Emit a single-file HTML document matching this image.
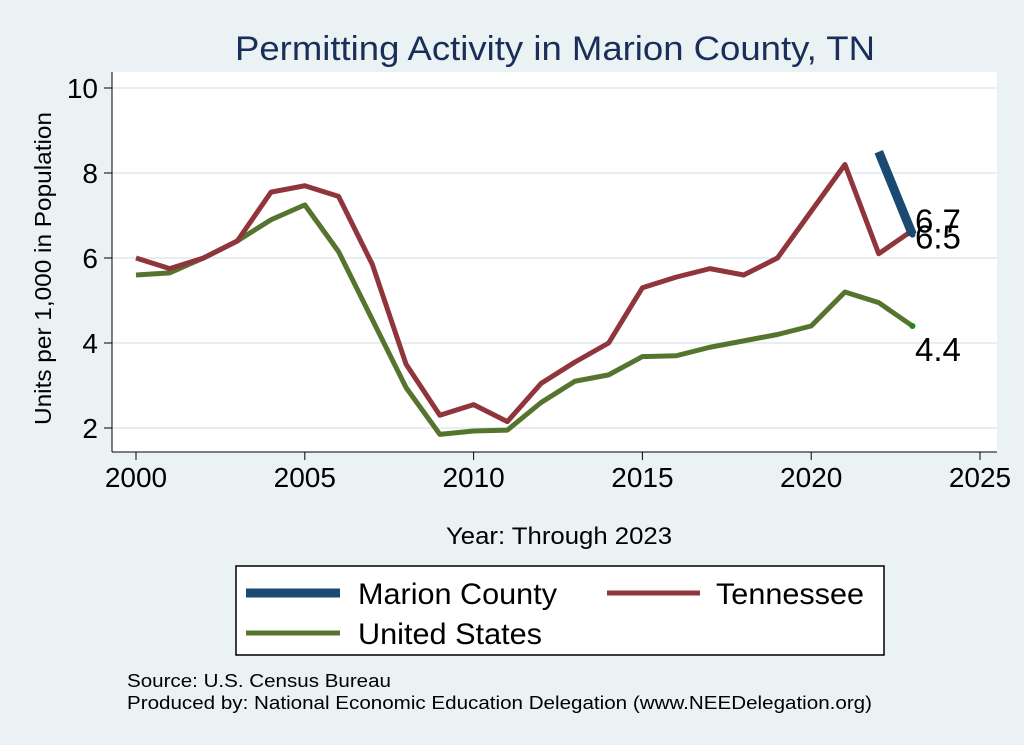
<!DOCTYPE html>
<html><head><meta charset="utf-8"><style>
body{margin:0;background:#eaf2f3;}
svg{display:block;font-family:"Liberation Sans",Arial,sans-serif;}
</style></head><body>
<svg id="chart" width="1024" height="745">
<rect x="0" y="0" width="1024" height="745" fill="#eaf2f3"/>
<rect x="112" y="72" width="885" height="380" fill="#ffffff"/>
<text x="235" y="60" font-size="34" fill="#1a2e5a" textLength="640" lengthAdjust="spacingAndGlyphs">Permitting Activity in Marion County, TN</text>
<g id="grid"></g><g id="axes"></g><g id="series"></g>
<text x="51" y="425" font-size="23" textLength="313" lengthAdjust="spacingAndGlyphs" transform="rotate(-90 51 425)">Units per 1,000 in Population</text>
<text x="446" y="544" font-size="24" textLength="226" lengthAdjust="spacingAndGlyphs">Year: Through 2023</text>
<g>
<rect x="236" y="566" width="648" height="89" fill="#fff" stroke="#000" stroke-width="1.5"/>
<line x1="246" y1="593" x2="340" y2="593" stroke="#1a4a72" stroke-width="9"/>
<text x="358" y="604" font-size="30" textLength="199" lengthAdjust="spacingAndGlyphs">Marion County</text>
<line x1="607" y1="593" x2="700" y2="593" stroke="#90353b" stroke-width="5"/>
<text x="716" y="604" font-size="30" textLength="148" lengthAdjust="spacingAndGlyphs">Tennessee</text>
<line x1="246" y1="633" x2="340" y2="633" stroke="#55752f" stroke-width="5"/>
<text x="358" y="644" font-size="30" textLength="184" lengthAdjust="spacingAndGlyphs">United States</text>
</g>
<text x="127" y="687" font-size="18" textLength="264" lengthAdjust="spacingAndGlyphs">Source: U.S. Census Bureau</text>
<text x="127" y="709" font-size="18" textLength="745" lengthAdjust="spacingAndGlyphs">Produced by: National Economic Education Delegation (www.NEEDelegation.org)</text>
</svg>
<script>
const years=[2000,2001,2002,2003,2004,2005,2006,2007,2008,2009,2010,2011,2012,2013,2014,2015,2016,2017,2018,2019,2020,2021,2022,2023];
const tennessee=[6.0,5.75,6.0,6.4,7.55,7.7,7.45,5.85,3.5,2.3,2.55,2.15,3.05,3.55,4.0,5.3,5.55,5.75,5.6,6.0,7.1,8.2,6.1,6.65];
const unitedStates=[5.6,5.65,6.0,6.4,6.9,7.25,6.15,4.55,2.95,1.85,1.93,1.95,2.6,3.1,3.25,3.68,3.7,3.9,4.05,4.2,4.4,5.2,4.95,4.4];
const marionYears=[2022,2023];
const marion=[8.5,6.55];
const xTicks=[2000,2005,2010,2015,2020,2025];
const yTicks=[2,4,6,8,10];
const endLabels=["6.7","6.5","4.4"];
const X=v=>136+(v-2000)*(980-136)/25;
const Y=v=>428-(v-2)*(428-88)/8;
const NS="http://www.w3.org/2000/svg";
function mk(tag,attrs,parent){const e=document.createElementNS(NS,tag);for(const k in attrs)e.setAttribute(k,attrs[k]);document.getElementById(parent).appendChild(e);return e;}
yTicks.forEach(t=>{
 const g=mk('line',{x1:112,x2:997,y1:Y(t),y2:Y(t),stroke:'#e6eef2','stroke-width':2},'grid');
 
 
 const tk=mk('line',{x1:104,x2:112,y1:Y(t),y2:Y(t),stroke:'#000','stroke-width':1},'axes');
 
 
 const tx=mk('text',{x:98,y:Y(t)+10,'font-size':28,'text-anchor':'end'},'axes');tx.textContent=t;
 
 
});
const ya=mk('line',{x1:112,x2:112,y1:72,y2:452,stroke:'#000'},'axes');


const xa=mk('line',{x1:112,x2:997,y1:452,y2:452,stroke:'#000'},'axes');


xTicks.forEach(t=>{
 const tk=mk('line',{x1:X(t),x2:X(t),y1:452,y2:460,stroke:'#000'},'axes');
 
 
 const tx=mk('text',{x:X(t),y:487,'font-size':28,'text-anchor':'middle'},'axes');tx.textContent=t;
 
 
});
function line(xs,ys,color,w,name){
 const p=mk('polyline',{points:xs.map((x,i)=>X(x)+','+Y(ys[i])).join(' '),fill:'none',stroke:color,'stroke-width':w,'stroke-linejoin':'round'},'series');
 
 
}
line(years,unitedStates,'#55752f',5,'us-line');
line(years,tennessee,'#90353b',5,'tennessee-line');
line(marionYears,marion,'#1a4a72',9,'marion-line');
const d1=mk('circle',{cx:X(2023),cy:Y(unitedStates[23]),r:3,fill:'#1a8a1a'},'series');


const d2=mk('circle',{cx:X(2023),cy:Y(marion[1]),r:3,fill:'#1a4a72'},'series');


const lbl=[[endLabels[0],Y(tennessee[23])+2],[endLabels[1],Y(marion[1])+14],[endLabels[2],Y(unitedStates[23])+35]];
lbl.forEach(([t,y])=>{const e=mk('text',{x:915,y:y,'font-size':33},'series');e.textContent=t;
 
 });
</script>
</body></html>
